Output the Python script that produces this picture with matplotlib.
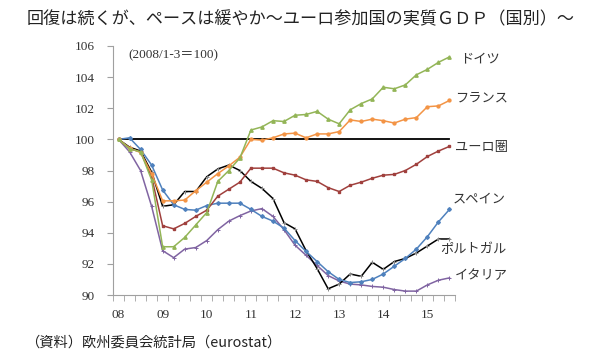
import numpy as np
import matplotlib
matplotlib.use("Agg")
import matplotlib.pyplot as plt

plt.rcParams['font.family'] = ['Noto Sans CJK JP', 'DejaVu Sans']

# quarterly real GDP index, 2008Q1 = 100 (2008Q1 .. 2015Q3)
year_labels = ['08', '09', '10', '11', '12', '13', '14', '15']

germany = [100.0, 99.4, 99.2, 97.4, 93.1, 93.1, 93.7, 94.5, 95.3, 97.3, 98.0,
           98.8, 100.6, 100.8, 101.2, 101.15, 101.55, 101.6, 101.8, 101.3, 101.0,
           101.9, 102.3, 102.6, 103.35, 103.25, 103.5, 104.15, 104.5, 104.95, 105.3]
france = [100.0, 99.45, 99.15, 97.8, 96.05, 96.05, 96.1, 96.7, 97.25, 97.8, 98.3,
          98.85, 100.0, 99.95, 100.1, 100.35, 100.4, 100.1, 100.35, 100.35, 100.5,
          101.25, 101.15, 101.3, 101.2, 101.05, 101.3, 101.4, 102.1, 102.15, 102.5]
euro = [100.0, 99.4, 99.2, 97.6, 94.45, 94.25, 94.6, 95.05, 95.45, 96.35, 96.8,
        97.25, 98.15, 98.15, 98.15, 97.85, 97.7, 97.4, 97.3, 96.9, 96.65,
        97.05, 97.25, 97.5, 97.7, 97.75, 98.0, 98.4, 98.9, 99.25, 99.55]
spain = [100.0, 100.1, 99.35, 98.35, 96.75, 95.8, 95.5, 95.45, 95.75, 95.9, 95.9,
         95.9, 95.5, 95.05, 94.75, 94.3, 93.5, 92.8, 92.15, 91.5, 91.0,
         90.8, 90.85, 91.0, 91.35, 91.85, 92.35, 92.95, 93.75, 94.7, 95.5]
portugal = [100.0, 99.5, 99.25, 97.9, 95.7, 95.8, 96.65, 96.65, 97.6, 98.1, 98.35,
            98.0, 97.3, 96.85, 96.2, 94.65, 94.25, 92.85, 91.7, 90.4, 90.7,
            91.35, 91.2, 92.1, 91.65, 92.15, 92.35, 92.7, 93.15, 93.6, 93.6]
italy = [100.0, 99.2, 98.0, 95.7, 92.85, 92.4, 92.95, 93.05, 93.5, 94.2, 94.75,
         95.1, 95.4, 95.55, 95.05, 94.2, 93.2, 92.55, 91.9, 91.25, 90.9,
         90.7, 90.65, 90.55, 90.5, 90.35, 90.25, 90.25, 90.65, 90.95, 91.1]

n = len(germany)
x = np.arange(n)
base = np.full(n, 100.0)

fig = plt.figure(figsize=(5.9, 3.63), dpi=100)
ax = fig.add_axes([113/590, 1-295/363, 342/590, 249/363])

ax.plot(x, base, color='black', lw=1.3, zorder=1)
ax.plot(x, italy, color='#8064A2', lw=1.1, marker='+', ms=2.6, mew=0.7)
ax.plot(x, portugal, color='black', lw=1.1, marker='+', ms=2.6, mew=0.7, mec='#888888')
ax.plot(x, spain, color='#4F81BD', lw=1.1, marker='D', ms=1.9)
ax.plot(x, euro, color='#A0403D', lw=1.1, marker='s', ms=2.1)
ax.plot(x, france, color='#F39445', lw=1.1, marker='o', ms=2.1)
ax.plot(x, germany, color='#93B557', lw=1.1, marker='^', ms=2.4)

ax.set_xlim(-0.5, n - 0.5)
ax.set_ylim(90, 106)
ax.set_yticks(np.arange(90, 107, 2))
ax.set_xticks(np.arange(0, n, 4))
ax.set_xticklabels(year_labels)
ax.set_xticks(np.arange(-0.5, n, 1), minor=True)
for s in ['top', 'right']:
    ax.spines[s].set_visible(False)
for s in ['left', 'bottom']:
    ax.spines[s].set_color('#A0A0A0')
    ax.spines[s].set_linewidth(0.8)
ax.tick_params(axis='y', direction='out', length=4, color='#A0A0A0', pad=9)
ax.tick_params(axis='x', which='major', length=0, pad=10)
ax.tick_params(axis='x', which='minor', direction='out', length=4, color='#A0A0A0')
for lab in ax.get_xticklabels() + ax.get_yticklabels():
    lab.set_family(['Liberation Serif'])
    lab.set_fontsize(9.5)
    lab.set_color('#333333')

# labels of the series, at the right
lab_kw = dict(fontsize=9.5, color='#333333', va='center', ha='left')
fig.text(460/590, 1-59/363, 'ドイツ', **lab_kw)
fig.text(455/590, 1-98/363, 'フランス', **lab_kw)
fig.text(455/590, 1-148/363, 'ユーロ圏', **lab_kw)
fig.text(453/590, 1-199/363, 'スペイン', **lab_kw)
fig.text(440/590, 1-250/363, 'ポルトガル', **lab_kw)
fig.text(455/590, 1-276/363, 'イタリア', **lab_kw)

fig.text(128/590, 1-55/363, '(2008/1-3＝100)', fontsize=9.5, color='#333333',
         va='center', family=['Liberation Serif', 'Noto Sans CJK JP'])

fig.text(27/590, 1-18/363, '回復は続くが、ペースは緩やか～ユーロ参加国の実質ＧＤＰ（国別）～',
         fontsize=12.3, va='center', color='#222222')
fig.text(25/590, 1-343/363, '（資料）欧州委員会統計局（eurostat）',
         fontsize=10.3, va='center', color='#222222')

fig.savefig('out.png', dpi=100, facecolor='white')
